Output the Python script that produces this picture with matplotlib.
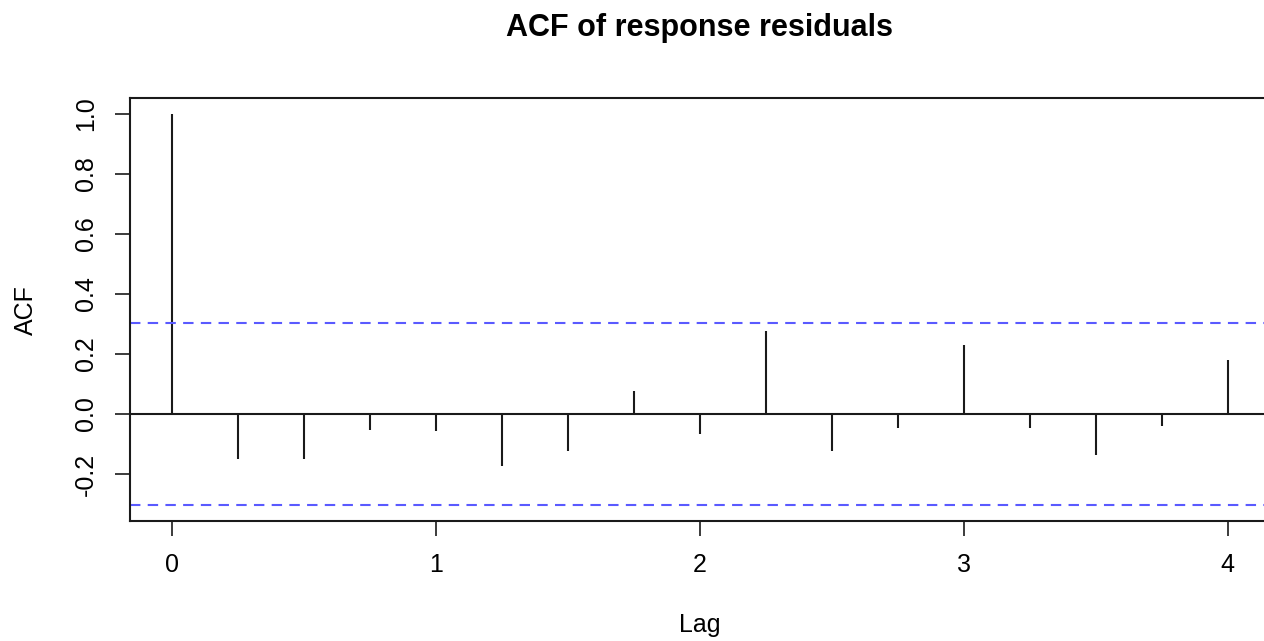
import matplotlib
matplotlib.use("Agg")
import matplotlib.pyplot as plt

# ACF-Werte der Residuen
lags = [0, 0.25, 0.5, 0.75, 1.0, 1.25, 1.5, 1.75, 2.0,
        2.25, 2.5, 2.75, 3.0, 3.25, 3.5, 3.75, 4.0]
acf_vals = [1.0, -0.15, -0.15, -0.053, -0.057, -0.174, -0.123, 0.078, -0.067,
            0.275, -0.124, -0.046, 0.231, -0.046, -0.137, -0.04, 0.18]
conf = 0.302

x_ticks = [0, 1, 2, 3, 4]
y_ticks = [-0.2, 0.0, 0.2, 0.4, 0.6, 0.8, 1.0]

plt.rcParams['font.family'] = ['Liberation Sans', 'DejaVu Sans']

W, H = 1264, 641
fig = plt.figure(figsize=(W / 100, H / 100), dpi=100)
# Achse ragt rechts etwas aus dem Bild heraus, wie im Original
ax = fig.add_axes([130 / W, 1 - 521 / H, 1140 / W, 423 / H])

ax.vlines(lags, 0, acf_vals, color='#1a1a1a', lw=1.5)
ax.axhline(0, color='#1a1a1a', lw=1.5)
for c in (conf, -conf):
    ax.axhline(c, color='#5a5aff', lw=1.5, dashes=(5, 3.5))

ax.set_xlim(-0.16, 4.16)
ax.set_ylim(-0.356, 1.052)
ax.set_xticks(x_ticks)
ax.set_yticks(y_ticks)
ax.set_yticklabels([f'{v:.1f}' for v in y_ticks], rotation=90, va='center')
ax.tick_params(length=11, width=1.2, color='#1a1a1a', labelsize=18, pad=12)

for s in ax.spines.values():
    s.set_linewidth(1.5)
    s.set_color('#1a1a1a')

ax.set_xlabel('Lag', fontsize=18, va='baseline')
ax.xaxis.set_label_coords(700 / W, 1 - 632 / H, transform=fig.transFigure)
ax.set_ylabel('ACF', fontsize=18)
ax.yaxis.set_label_coords(38 / W, 1 - 310 / H, transform=fig.transFigure)

fig.text(700 / W, 1 - 36 / H, 'ACF of response residuals',
         ha='center', va='baseline', fontsize=22, fontweight='bold')

fig.savefig('out.png', dpi=100)
